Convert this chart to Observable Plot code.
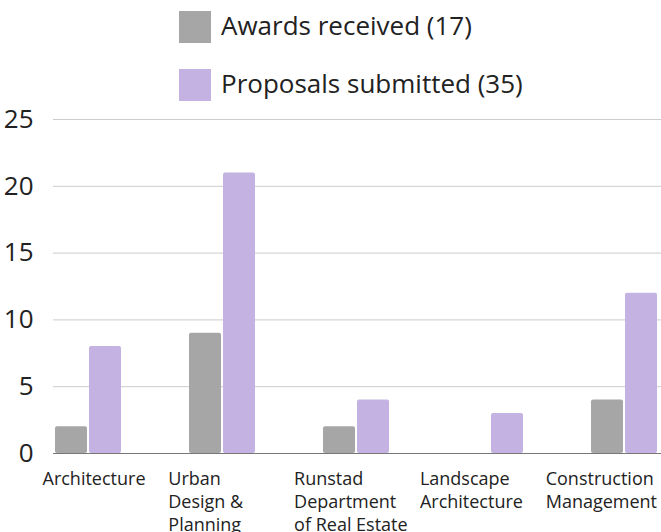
<!DOCTYPE html>
<html><head><meta charset="utf-8">
<script src="https://cdn.jsdelivr.net/npm/d3@7"></script>
<script src="https://cdn.jsdelivr.net/npm/@observablehq/plot@0.6"></script>
<style>
body{margin:0;background:#fff;font-family:"Open Sans",sans-serif;}
#legend{position:relative;height:106px;width:661px;}
.item{position:absolute;left:179px;display:flex;align-items:center;font-size:26px;color:#222;}
.sw{width:32px;height:32px;margin-right:10px;}
svg{overflow:visible;}
</style></head>
<body>
<div id="legend"></div>
<div id="chart"></div>
<script>
const categories = ["Architecture","Urban Design & Planning","Runstad Department of Real Estate","Landscape Architecture","Construction Management"];
const labels = ["Architecture","Urban\nDesign &\nPlanning","Runstad\nDepartment\nof Real Estate","Landscape\nArchitecture","Construction\nManagement"];
const awards = [2, 9, 2, 0, 4];
const proposals = [8, 21, 4, 3, 12];
const seriesNames = ["Awards received (17)","Proposals submitted (35)"];
const colors = ["#a6a6a6","#c4b3e2"];
const yTicks = [0,5,10,15,20,25];

const legend = document.getElementById("legend");
seriesNames.forEach((n,i)=>{
  const d=document.createElement("div");d.className="item";d.style.top=(9+i*58)+"px";
  d.innerHTML=`<div class="sw" style="background:${colors[i]}"></div><span style="position:relative;top:-2px">${n}</span>`;
  legend.appendChild(d);
});

const awardRows = categories.map((c,i)=>({cat:c, v:awards[i]}));
const propRows = categories.map((c,i)=>({cat:c, v:proposals[i]}));

const labelMarks = categories.map((c,i)=>Plot.text([c],{x:d=>d, y:0, text:[labels[i]], textAnchor:"start", lineAnchor:"top", dy:15, dx:-46-8.2*i, fontSize:18, lineHeight:1.28, fill:"#222"}));

const chart = Plot.plot({
  width:661, height:426,
  marginTop:13, marginBottom:79, marginLeft:53, marginRight:0,
  style:{fontFamily:"Open Sans", background:"#fff", overflow:"visible"},
  x:{domain:categories, range:[53,659], paddingInner:0.511, paddingOuter:0, axis:null},
  y:{domain:[0,25], axis:null},
  marks:[
    Plot.ruleY(yTicks.filter(t=>t>0),{stroke:"#cccccc", strokeWidth:1}),
    Plot.barY(awardRows.filter(d=>d.v>0),{x:"cat", y:"v", fill:colors[0], insetRight:34, rx:2}),
    Plot.barY(propRows.filter(d=>d.v>0),{x:"cat", y:"v", fill:colors[1], insetLeft:34, rx:2}),
    Plot.ruleY([0],{stroke:"#777", strokeWidth:1}),
    Plot.axisY({ticks:yTicks, tickSize:0, tickPadding:20, fontSize:26, label:null, color:"#222"}),
    ...labelMarks
  ]
});
document.getElementById("chart").appendChild(chart);
</script>
</body></html>
